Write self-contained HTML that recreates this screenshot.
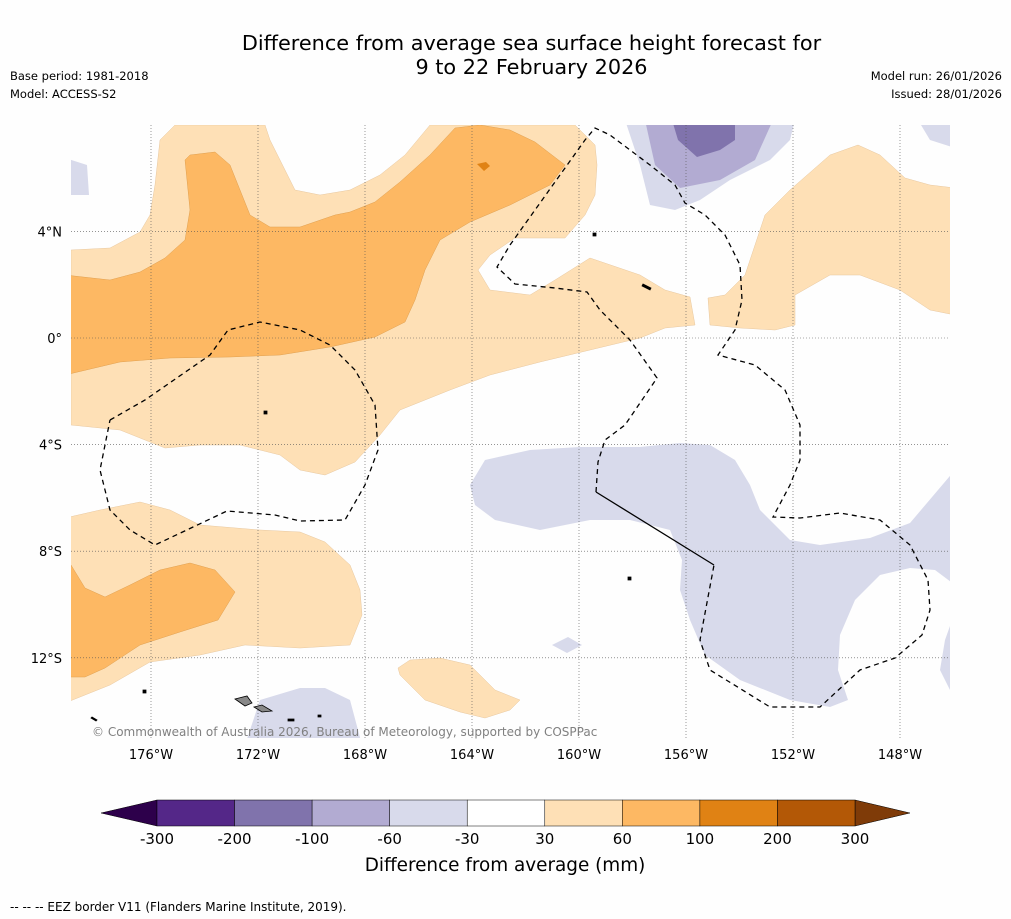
<!DOCTYPE html>
<html><head><meta charset="utf-8"><style>
body{margin:0;background:#fff;}
#root{position:relative;width:1011px;height:919px;background:#fefefe;font-family:"DejaVu Sans","Liberation Sans",sans-serif;}
.t{position:absolute;color:#000;}
</style></head><body>
<div id="root">
<div class="t" style="left:0;width:1063px;top:31px;text-align:center;font-size:20.8px;line-height:24px;">Difference from average sea surface height forecast for<br>9 to 22 February 2026</div>
<div class="t" style="left:10px;top:69px;font-size:11.5px;">Base period: 1981-2018</div>
<div class="t" style="left:10px;top:87px;font-size:11.5px;">Model: ACCESS-S2</div>
<div class="t" style="right:9px;top:69px;font-size:11.5px;">Model run: 26/01/2026</div>
<div class="t" style="right:9px;top:87px;font-size:11.5px;">Issued: 28/01/2026</div>
<svg id="map" width="1011" height="919" style="position:absolute;left:0;top:0" xmlns="http://www.w3.org/2000/svg">
<defs><clipPath id="mc"><rect x="71" y="125" width="879" height="613"/></clipPath></defs>
<g clip-path="url(#mc)">
<path fill="#fee0b6" stroke="#e8c8a0" stroke-width="0.5" d="M71,250 L110,248 140,232 150,215 155,185 160,140 175,125 265,125 270,140 295,190 320,195 350,190 380,175 405,155 430,125 575,125 595,145 597,165 595,195 585,215 565,238 515,238 490,255 478,270 490,290 530,295 555,280 590,258 640,275 665,290 690,297 695,325 665,328 640,338 590,350 540,362 490,375 450,390 425,400 400,410 380,435 355,462 325,475 300,470 280,455 240,445 200,445 165,448 120,430 71,425Z"/>
<path fill="#fee0b6" stroke="#e8c8a0" stroke-width="0.5" d="M708,298 L725,295 745,275 765,215 790,190 830,155 858,145 880,155 905,178 930,185 955,188 955,315 930,310 900,290 860,275 830,275 795,295 795,325 775,330 740,328 710,325Z"/>
<path fill="#fee0b6" stroke="#e8c8a0" stroke-width="0.5" d="M65,518 L100,510 140,502 170,510 200,525 260,530 300,532 325,542 350,565 360,590 362,615 350,645 300,648 245,645 200,655 150,662 110,685 65,703Z"/>
<path fill="#fee0b6" stroke="#e8c8a0" stroke-width="0.5" d="M398,668 L410,660 440,658 470,665 495,690 520,700 510,710 485,718 460,712 425,700 400,675Z"/>
<path fill="#fdb863" stroke="#e0a050" stroke-width="0.5" d="M65,275 L110,280 140,272 165,258 185,240 190,210 185,160 190,155 215,152 230,165 240,190 250,215 270,227 300,227 335,215 350,212 375,202 400,182 430,155 455,128 480,125 510,130 535,142 565,165 550,185 510,205 470,222 440,240 425,270 415,300 405,322 375,337 330,347 280,355 230,357 170,358 120,362 65,375Z"/>
<path fill="#e08214" d="M477,164 L486,162 490,166 484,171Z"/>
<path fill="#fdb863" stroke="#e0a050" stroke-width="0.5" d="M65,565 L71,565 85,588 105,597 130,585 160,570 190,563 215,570 235,592 218,620 180,632 140,645 105,668 85,677 65,677Z"/>
<path fill="#d8daeb" d="M470,485 L485,460 530,450 580,447 640,447 680,443 710,445 735,460 750,485 760,510 790,540 820,545 870,538 910,523 955,470 955,585 935,570 910,568 880,575 855,600 840,635 838,670 848,700 830,707 790,700 740,680 705,655 690,620 680,590 682,560 670,530 630,520 590,520 540,530 495,520 475,505Z"/>
<path fill="#d8daeb" d="M552,645 L568,637 582,645 567,653Z"/>
<path fill="#d8daeb" d="M955,612 L945,640 940,670 955,700Z"/>
<path fill="#d8daeb" d="M625,120 L640,165 650,205 675,210 700,200 730,180 770,160 790,140 795,120Z"/>
<path fill="#b2abd2" d="M645,120 L655,165 680,188 720,180 755,160 773,120Z"/>
<path fill="#8073ac" d="M672,120 L678,140 697,157 720,150 735,140 735,120Z"/>
<path fill="#d8daeb" d="M918,120 L930,140 955,148 955,120Z"/>
<path fill="#d8daeb" d="M65,158 L87,165 89,195 65,195Z"/>
<path fill="#d8daeb" d="M245,745 L260,700 300,688 325,688 350,700 362,745Z"/>
</g>
<g stroke="#555" stroke-width="0.6" stroke-dasharray="1,2" fill="none" id="grid"></g>
<g fill="none" stroke="#000" stroke-width="1.3">
<path stroke-dasharray="5,4" d="M596,492 L598,462 605,440 625,425 657,378 630,340 600,310 587,292 555,288 515,284 497,267 510,245 535,210 560,175 585,140 595,128 610,135 650,165 675,185 685,203 705,215 725,235 740,265 742,300 735,330 718,355 755,365 785,390 800,425 800,460 790,485 773,517 800,518 840,513 880,520 910,545 928,580 930,610 922,635 895,658 860,670 820,707 770,707 710,670 700,640 714,565"/>
<path d="M596,492 L714,565"/>
<path stroke-dasharray="5,4" d="M110,420 L145,400 210,355 228,330 260,322 300,330 330,345 355,370 375,405 378,450 365,485 345,520 300,521 275,515 227,511 155,545 130,530 110,510 100,470 110,420"/>
</g>
<g fill="#888" stroke="#000" stroke-width="0.8">
<path d="M235,699 L247,696 252,703 245,706Z"/><path d="M254,707 L262,705 272,711 262,712Z"/>
<path fill="#000" d="M288,719 h6 v2 h-6Z M318,715 h3 v2 h-3Z M92,717 l5,3 -1,1 -5,-3Z M143,690 h3 v3 h-3Z M643,284 l8,4 -1,2 -8,-4Z M593,233 h3 v3 h-3Z M264,411 h3 v3 h-3Z M628,577 h3 v3 h-3Z"/>
</g>
<text x="92" y="736" font-size="12" fill="#808080">© Commonwealth of Australia 2026, Bureau of Meteorology, supported by COSPPac</text>
<g id="axes" font-size="13" fill="#000"></g>
<g id="cbar"></g>
<text x="505" y="871" text-anchor="middle" font-size="18.4">Difference from average (mm)</text>
<text x="10" y="911" font-size="12">--  --  -- EEZ border V11 (Flanders Marine Institute, 2019).</text>
</svg>
</div>
<script>
const lonTicks=[-176,-172,-168,-164,-160,-156,-152,-148];
const latTicks=[4,0,-4,-8,-12];
const levels=[-300,-200,-100,-60,-30,30,60,100,200,300];
const levelColors=["#542788","#8073ac","#b2abd2","#d8daeb","#ffffff","#fee0b6","#fdb863","#e08214","#b35806"];
const extColors=["#2d004b","#7f3b08"];
const NS="http://www.w3.org/2000/svg";
function xLon(l){return 151+(l+176)*26.75;}
function yLat(a){return 338-a*26.65;}
function mk(tag,at,parent){const e=document.createElementNS(NS,tag);for(const k in at)e.setAttribute(k,at[k]);parent.appendChild(e);return e;}
const grid=document.getElementById('grid'),axes=document.getElementById('axes'),cb=document.getElementById('cbar');
lonTicks.forEach(l=>{const x=xLon(l);
 const g=mk('line',{x1:x,x2:x,y1:125,y2:738},grid);
 
 
 const t=mk('text',{x:x,y:759,'text-anchor':'middle'},axes);t.textContent=Math.abs(l)+'°W';
 
 });
latTicks.forEach(a=>{const y=yLat(a);
 const g=mk('line',{x1:71,x2:950,y1:y,y2:y},grid);
 
 
 const t=mk('text',{x:62,y:y+5,'text-anchor':'end'},axes);t.textContent=a===0?'0°':Math.abs(a)+'°'+(a>0?'N':'S');
 
 });
const cx0=157,cx1=855,cy=800,ch=26,w=(cx1-cx0)/levelColors.length;
const e1=mk('path',{d:`M${cx0},${cy} L101,${cy+ch/2} L${cx0},${cy+ch}Z`,fill:extColors[0],stroke:'#000','stroke-width':0.5},cb);


const e2=mk('path',{d:`M${cx1},${cy} L910,${cy+ch/2} L${cx1},${cy+ch}Z`,fill:extColors[1],stroke:'#000','stroke-width':0.5},cb);


levelColors.forEach((c,i)=>{const r=mk('rect',{x:cx0+i*w,y:cy,width:w,height:ch,fill:c,stroke:'#000','stroke-width':0.5},cb);
 
 });
levels.forEach((v,i)=>{const t=mk('text',{x:cx0+i*w,y:844,'text-anchor':'middle','font-size':15},cb);t.textContent=v;
 
 });
</script>
</body></html>
